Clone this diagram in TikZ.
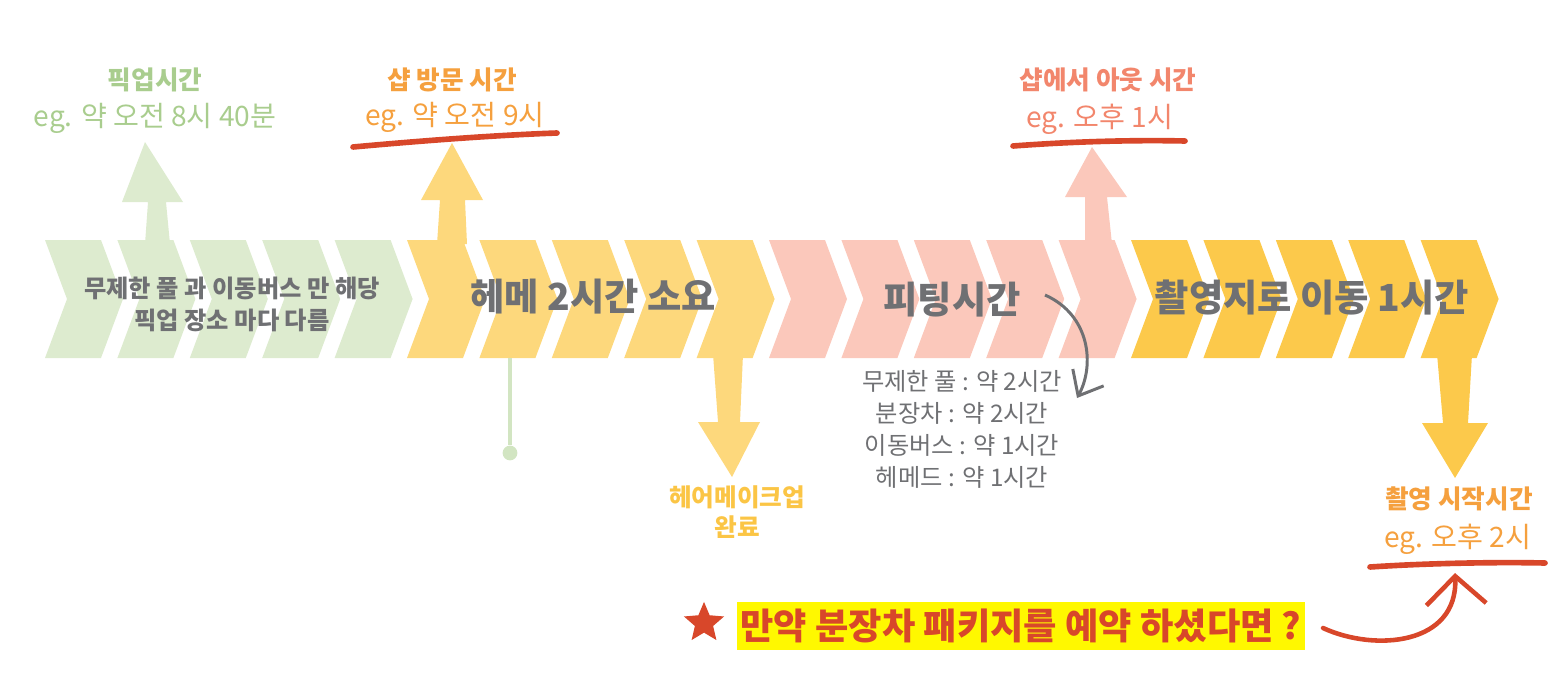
\documentclass[tikz,border=0pt]{standalone}
\usepackage{fontspec}
\setmainfont{Noto Sans CJK KR}
\usetikzlibrary{arrows.meta,shapes.geometric}
\definecolor{cgreen}{HTML}{DDEBCF}
\definecolor{pgreen}{HTML}{D2E5C2}
\definecolor{tgreen}{HTML}{A9CD8E}
\definecolor{corange}{HTML}{FDD87C}
\definecolor{torange}{HTML}{F5A03E}
\definecolor{tyellow}{HTML}{FBC545}
\definecolor{cpink}{HTML}{FBC8BB}
\definecolor{tpink}{HTML}{F2866C}
\definecolor{cgold}{HTML}{FCC94B}
\definecolor{tgray}{HTML}{6F7073}
\definecolor{cred}{HTML}{D8472A}
\definecolor{hilite}{HTML}{FFF800}
\begin{document}
\begin{tikzpicture}[x=0.01cm,y=-0.01cm,
  hdr/.style={font=\fontsize{7.3}{8.5}\selectfont\bfseries,align=center},
  hand/.style={font=\fontsize{8}{9}\selectfont},
  band/.style={text=tgray,font=\fontsize{10.6}{12}\selectfont\bfseries},
  lst/.style={text=tgray,align=center,font=\fontsize{6.9}{9.1}\selectfont},
  uline/.style={cred,line width=1.6pt,line cap=round},
  >={Straight Barb[length=6pt,width=10pt]}]
\useasboundingbox(0,0)rectangle(1561,694);

% chevron band
\foreach \c [count=\g from 0] in {cgreen,corange,cpink,cgold}
  \foreach \i in {0,...,4}
    \fill[\c]({45+72.4*(5*\g+\i)},240)--++(56,0)--++(22,59)--++(-22,59)--++(-56,0)--++(22,-59)--cycle;

% block arrows
\fill[cgreen](145,244)--(148,202)--(122,202)--(145,142)--(183,202)--(166,202)--(170,244)--cycle;
\fill[corange](437,244)--(440,200)--(421,200)--(452,143)--(483,200)--(465,200)--(467,244)--cycle;
\fill[cpink](1085,244)--(1085,197)--(1065,197)--(1092,147)--(1127,197)--(1107,197)--(1112,244)--cycle;
\fill[corange](713,354)--(718,422)--(698,422)--(732,477)--(760,422)--(740,422)--(743,354)--cycle;
\fill[cgold](1437,354)--(1443,423)--(1422,423)--(1455,478)--(1488,423)--(1468,423)--(1472,354)--cycle;

% pin
\coordinate(pinS)at(510,358);
\node[circle,fill=pgreen,inner sep=0pt,minimum size=4.2pt](pin)at(510,453){};
\draw[pgreen,line width=0.9pt](pinS)--(pin);

% band texts
\node[band,align=center,font=\fontsize{6.9}{9.1}\selectfont\bfseries](pool)at(232,304){무제한 풀 과 이동버스 만 해당\\픽업 장소 마다 다름};
\node[band](hm)at(593,297){헤메 2시간 소요};
\node[band](fit)at(952,300){피팅시간};
\node[band](move)at(1312,298){촬영지로 이동 1시간};

% upper labels
\node[hdr,text=tgreen](pick)at(155,80){픽업시간};
\node[hand,text=tgreen](pickeg)at(155,118){eg. 약 오전 8시 40분};
\node[hdr,text=torange](visit)at(452,80){샵 방문 시간};
\node[hand,text=torange](visiteg)at(455,117){eg. 약 오전 9시};
\node[hdr,text=tpink](out)at(1108,80){샵에서 아웃 시간};
\node[hand,text=tpink](outeg)at(1100,119){eg. 오후 1시};
\draw[uline](353,147)..controls(430,140)and(500,135)..(557,133);
\draw[uline](1013,146)..controls(1080,141)and(1140,140)..(1185,141);

% lower labels
\node[hdr,text=tyellow,font=\fontsize{7}{8.5}\selectfont\bfseries](done)at(737,512){헤어메이크업\\완료};
\node[lst](time)at(962,429){무제한 풀 : 약 2시간\\분장차 : 약 2시간\\이동버스 : 약 1시간\\헤메드 : 약 1시간};
\node[hdr,text=torange](shoot)at(1459,499){촬영 시작시간};
\node[hand,text=torange](shooteg)at(1458,539){eg. 오후 2시};
\draw[uline](1370,567)..controls(1430,563)and(1500,562)..(1545,563);

\coordinate(fitS)at(1045,295);
\coordinate(fitE)at(1077,398);
\draw[->,tgray,line width=0.85pt](fitS)..controls(1090,315)and(1095,365)..(fitE);

% question
\node[star,star points=5,star point ratio=2.2,fill=cred,inner sep=0pt,minimum size=12pt](st)at(704,623){};
\node[fill=hilite,text=cred,inner xsep=1pt,inner ysep=2pt,font=\fontsize{10.3}{12}\selectfont\bfseries](ask)at(1021,626){만약 분장차 패키지를 예약 하셨다면 ?};
\coordinate(askS)at(1323,628);
\coordinate(askE)at(1455,573);
\draw[->,cred,line width=1.3pt,line cap=round,>={Straight Barb[length=8pt,width=17pt]}](askS)..controls(1375,652)and(1458,645)..(askE);
\end{tikzpicture}
\end{document}
